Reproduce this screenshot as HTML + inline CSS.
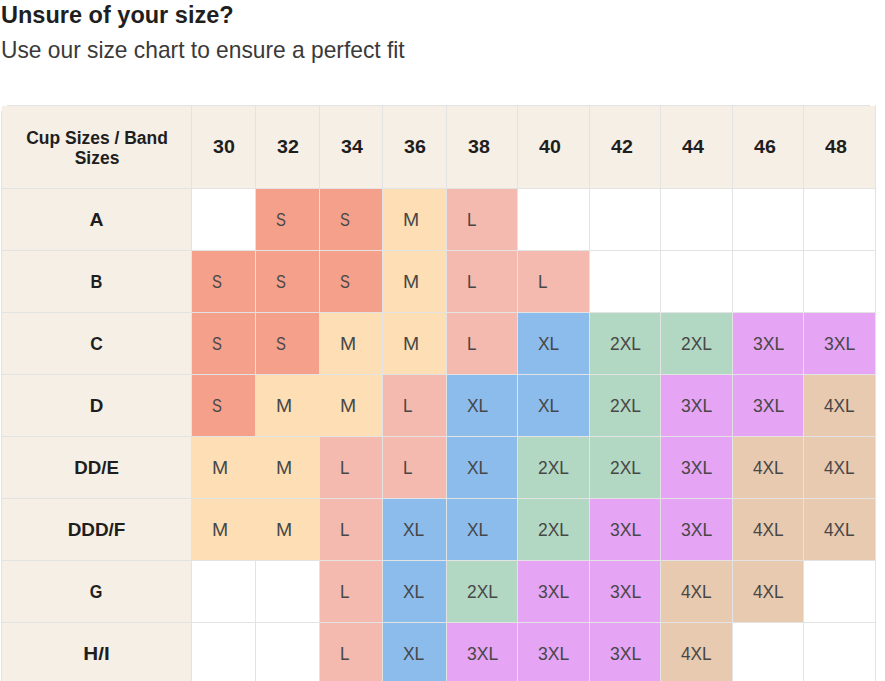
<!DOCTYPE html>
<html><head><meta charset="utf-8"><style>
html,body{margin:0;padding:0;background:#fff;}
body{width:885px;height:681px;position:relative;overflow:hidden;font-family:"Liberation Sans",sans-serif;}
.h1{position:absolute;left:1px;top:-0.4px;transform-origin:0 0;transform:scaleX(0.96);font-size:24.5px;font-weight:bold;color:#1f1f1f;white-space:nowrap;line-height:30px}
.h2{position:absolute;left:1px;top:34.5px;transform-origin:0 0;transform:scaleX(0.965);font-size:23.6px;color:#3a3a3a;white-space:nowrap;line-height:30px}
</style></head><body>
<div class="h1">Unsure of your size?</div>
<div class="h2">Use our size chart to ensure a perfect fit</div>
<div style="position:absolute;left:2px;top:106px;width:873px;height:82px;background:#F6EFE6"></div><div style="position:absolute;left:2px;top:188px;width:189px;height:493px;background:#F6EFE6"></div><div style="position:absolute;left:256px;top:189px;width:63px;height:61px;background:#F5A08A"></div><div style="position:absolute;left:320px;top:189px;width:62px;height:61px;background:#F5A08A"></div><div style="position:absolute;left:383px;top:189px;width:63px;height:61px;background:#FEDFB5"></div><div style="position:absolute;left:447px;top:189px;width:70px;height:61px;background:#F4B9AF"></div><div style="position:absolute;left:192px;top:251px;width:63px;height:61px;background:#F5A08A"></div><div style="position:absolute;left:256px;top:251px;width:63px;height:61px;background:#F5A08A"></div><div style="position:absolute;left:320px;top:251px;width:62px;height:61px;background:#F5A08A"></div><div style="position:absolute;left:383px;top:251px;width:63px;height:61px;background:#FEDFB5"></div><div style="position:absolute;left:447px;top:251px;width:70px;height:61px;background:#F4B9AF"></div><div style="position:absolute;left:518px;top:251px;width:71px;height:61px;background:#F4B9AF"></div><div style="position:absolute;left:192px;top:313px;width:63px;height:61px;background:#F5A08A"></div><div style="position:absolute;left:256px;top:313px;width:63px;height:61px;background:#F5A08A"></div><div style="position:absolute;left:320px;top:313px;width:62px;height:61px;background:#FEDFB5"></div><div style="position:absolute;left:383px;top:313px;width:63px;height:61px;background:#FEDFB5"></div><div style="position:absolute;left:447px;top:313px;width:70px;height:61px;background:#F4B9AF"></div><div style="position:absolute;left:518px;top:313px;width:71px;height:61px;background:#8BBCEC"></div><div style="position:absolute;left:590px;top:313px;width:70px;height:61px;background:#B2D7C3"></div><div style="position:absolute;left:661px;top:313px;width:71px;height:61px;background:#B2D7C3"></div><div style="position:absolute;left:733px;top:313px;width:70px;height:61px;background:#E5A4F4"></div><div style="position:absolute;left:804px;top:313px;width:71px;height:61px;background:#E5A4F4"></div><div style="position:absolute;left:192px;top:375px;width:63px;height:61px;background:#F5A08A"></div><div style="position:absolute;left:256px;top:375px;width:63px;height:61px;background:#FEDFB5"></div><div style="position:absolute;left:320px;top:375px;width:62px;height:61px;background:#FEDFB5"></div><div style="position:absolute;left:383px;top:375px;width:63px;height:61px;background:#F4B9AF"></div><div style="position:absolute;left:447px;top:375px;width:70px;height:61px;background:#8BBCEC"></div><div style="position:absolute;left:518px;top:375px;width:71px;height:61px;background:#8BBCEC"></div><div style="position:absolute;left:590px;top:375px;width:70px;height:61px;background:#B2D7C3"></div><div style="position:absolute;left:661px;top:375px;width:71px;height:61px;background:#E5A4F4"></div><div style="position:absolute;left:733px;top:375px;width:70px;height:61px;background:#E5A4F4"></div><div style="position:absolute;left:804px;top:375px;width:71px;height:61px;background:#E8CAB0"></div><div style="position:absolute;left:192px;top:437px;width:63px;height:61px;background:#FEDFB5"></div><div style="position:absolute;left:256px;top:437px;width:63px;height:61px;background:#FEDFB5"></div><div style="position:absolute;left:320px;top:437px;width:62px;height:61px;background:#F4B9AF"></div><div style="position:absolute;left:383px;top:437px;width:63px;height:61px;background:#F4B9AF"></div><div style="position:absolute;left:447px;top:437px;width:70px;height:61px;background:#8BBCEC"></div><div style="position:absolute;left:518px;top:437px;width:71px;height:61px;background:#B2D7C3"></div><div style="position:absolute;left:590px;top:437px;width:70px;height:61px;background:#B2D7C3"></div><div style="position:absolute;left:661px;top:437px;width:71px;height:61px;background:#E5A4F4"></div><div style="position:absolute;left:733px;top:437px;width:70px;height:61px;background:#E8CAB0"></div><div style="position:absolute;left:804px;top:437px;width:71px;height:61px;background:#E8CAB0"></div><div style="position:absolute;left:192px;top:499px;width:63px;height:61px;background:#FEDFB5"></div><div style="position:absolute;left:256px;top:499px;width:63px;height:61px;background:#FEDFB5"></div><div style="position:absolute;left:320px;top:499px;width:62px;height:61px;background:#F4B9AF"></div><div style="position:absolute;left:383px;top:499px;width:63px;height:61px;background:#8BBCEC"></div><div style="position:absolute;left:447px;top:499px;width:70px;height:61px;background:#8BBCEC"></div><div style="position:absolute;left:518px;top:499px;width:71px;height:61px;background:#B2D7C3"></div><div style="position:absolute;left:590px;top:499px;width:70px;height:61px;background:#E5A4F4"></div><div style="position:absolute;left:661px;top:499px;width:71px;height:61px;background:#E5A4F4"></div><div style="position:absolute;left:733px;top:499px;width:70px;height:61px;background:#E8CAB0"></div><div style="position:absolute;left:804px;top:499px;width:71px;height:61px;background:#E8CAB0"></div><div style="position:absolute;left:320px;top:561px;width:62px;height:61px;background:#F4B9AF"></div><div style="position:absolute;left:383px;top:561px;width:63px;height:61px;background:#8BBCEC"></div><div style="position:absolute;left:447px;top:561px;width:70px;height:61px;background:#B2D7C3"></div><div style="position:absolute;left:518px;top:561px;width:71px;height:61px;background:#E5A4F4"></div><div style="position:absolute;left:590px;top:561px;width:70px;height:61px;background:#E5A4F4"></div><div style="position:absolute;left:661px;top:561px;width:71px;height:61px;background:#E8CAB0"></div><div style="position:absolute;left:733px;top:561px;width:70px;height:61px;background:#E8CAB0"></div><div style="position:absolute;left:320px;top:623px;width:62px;height:61px;background:#F4B9AF"></div><div style="position:absolute;left:383px;top:623px;width:63px;height:61px;background:#8BBCEC"></div><div style="position:absolute;left:447px;top:623px;width:70px;height:61px;background:#E5A4F4"></div><div style="position:absolute;left:518px;top:623px;width:71px;height:61px;background:#E5A4F4"></div><div style="position:absolute;left:590px;top:623px;width:70px;height:61px;background:#E5A4F4"></div><div style="position:absolute;left:661px;top:623px;width:71px;height:61px;background:#E8CAB0"></div><div style="position:absolute;left:191px;top:105px;width:1px;height:576px;background:#E3E3E3"></div><div style="position:absolute;left:255px;top:105px;width:1px;height:576px;background:#E3E3E3"></div><div style="position:absolute;left:319px;top:105px;width:1px;height:576px;background:#E3E3E3"></div><div style="position:absolute;left:382px;top:105px;width:1px;height:576px;background:#E3E3E3"></div><div style="position:absolute;left:446px;top:105px;width:1px;height:576px;background:#E3E3E3"></div><div style="position:absolute;left:517px;top:105px;width:1px;height:576px;background:#E3E3E3"></div><div style="position:absolute;left:589px;top:105px;width:1px;height:576px;background:#E3E3E3"></div><div style="position:absolute;left:660px;top:105px;width:1px;height:576px;background:#E3E3E3"></div><div style="position:absolute;left:732px;top:105px;width:1px;height:576px;background:#E3E3E3"></div><div style="position:absolute;left:803px;top:105px;width:1px;height:576px;background:#E3E3E3"></div><div style="position:absolute;left:875px;top:105px;width:1px;height:576px;background:#E3E3E3"></div><div style="position:absolute;left:1px;top:111px;width:1px;height:570px;background:#E3E3E3"></div><div style="position:absolute;left:875px;top:111px;width:1px;height:570px;background:#E3E3E3"></div><div style="position:absolute;left:1px;top:188px;width:875px;height:1px;background:#E3E3E3"></div><div style="position:absolute;left:1px;top:250px;width:875px;height:1px;background:#E3E3E3"></div><div style="position:absolute;left:1px;top:312px;width:875px;height:1px;background:#E3E3E3"></div><div style="position:absolute;left:1px;top:374px;width:875px;height:1px;background:#E3E3E3"></div><div style="position:absolute;left:1px;top:436px;width:875px;height:1px;background:#E3E3E3"></div><div style="position:absolute;left:1px;top:498px;width:875px;height:1px;background:#E3E3E3"></div><div style="position:absolute;left:1px;top:560px;width:875px;height:1px;background:#E3E3E3"></div><div style="position:absolute;left:1px;top:622px;width:875px;height:1px;background:#E3E3E3"></div><div style="position:absolute;left:7px;top:105px;width:863px;height:1px;background:#E3E3E3"></div>
<div style="position:absolute;left:2px;top:106px;width:189px;height:82px;display:flex;align-items:center;justify-content:center;text-align:center;line-height:20px;padding-top:2px;padding-left:2px;box-sizing:border-box;font-weight:bold;font-size:18px;color:#1e1e1e"><span style="display:inline-block;transform:scaleX(0.97)">Cup Sizes / Band<br>Sizes</span></div><div style="position:absolute;left:192px;top:106px;width:63px;height:82px;display:flex;align-items:center;padding-left:20.6px;box-sizing:border-box;font-weight:bold;font-size:18px;color:#1e1e1e"><span style="display:inline-block;transform:scaleX(1.09);transform-origin:0 50%">30</span></div><div style="position:absolute;left:256px;top:106px;width:63px;height:82px;display:flex;align-items:center;padding-left:20.6px;box-sizing:border-box;font-weight:bold;font-size:18px;color:#1e1e1e"><span style="display:inline-block;transform:scaleX(1.09);transform-origin:0 50%">32</span></div><div style="position:absolute;left:320px;top:106px;width:62px;height:82px;display:flex;align-items:center;padding-left:20.6px;box-sizing:border-box;font-weight:bold;font-size:18px;color:#1e1e1e"><span style="display:inline-block;transform:scaleX(1.09);transform-origin:0 50%">34</span></div><div style="position:absolute;left:383px;top:106px;width:63px;height:82px;display:flex;align-items:center;padding-left:20.6px;box-sizing:border-box;font-weight:bold;font-size:18px;color:#1e1e1e"><span style="display:inline-block;transform:scaleX(1.09);transform-origin:0 50%">36</span></div><div style="position:absolute;left:447px;top:106px;width:70px;height:82px;display:flex;align-items:center;padding-left:20.6px;box-sizing:border-box;font-weight:bold;font-size:18px;color:#1e1e1e"><span style="display:inline-block;transform:scaleX(1.09);transform-origin:0 50%">38</span></div><div style="position:absolute;left:518px;top:106px;width:71px;height:82px;display:flex;align-items:center;padding-left:20.6px;box-sizing:border-box;font-weight:bold;font-size:18px;color:#1e1e1e"><span style="display:inline-block;transform:scaleX(1.09);transform-origin:0 50%">40</span></div><div style="position:absolute;left:590px;top:106px;width:70px;height:82px;display:flex;align-items:center;padding-left:20.6px;box-sizing:border-box;font-weight:bold;font-size:18px;color:#1e1e1e"><span style="display:inline-block;transform:scaleX(1.09);transform-origin:0 50%">42</span></div><div style="position:absolute;left:661px;top:106px;width:71px;height:82px;display:flex;align-items:center;padding-left:20.6px;box-sizing:border-box;font-weight:bold;font-size:18px;color:#1e1e1e"><span style="display:inline-block;transform:scaleX(1.09);transform-origin:0 50%">44</span></div><div style="position:absolute;left:733px;top:106px;width:70px;height:82px;display:flex;align-items:center;padding-left:20.6px;box-sizing:border-box;font-weight:bold;font-size:18px;color:#1e1e1e"><span style="display:inline-block;transform:scaleX(1.09);transform-origin:0 50%">46</span></div><div style="position:absolute;left:804px;top:106px;width:71px;height:82px;display:flex;align-items:center;padding-left:20.6px;box-sizing:border-box;font-weight:bold;font-size:18px;color:#1e1e1e"><span style="display:inline-block;transform:scaleX(1.09);transform-origin:0 50%">48</span></div><div style="position:absolute;left:2px;top:189px;width:189px;height:61px;display:flex;align-items:center;justify-content:center;padding-top:2px;box-sizing:border-box;font-weight:bold;font-size:18px;color:#1e1e1e"><span style="display:inline-block;transform:scaleX(1.08)">A</span></div><div style="position:absolute;left:256px;top:189px;width:63px;height:61px;display:flex;align-items:center;padding-left:20.4px;padding-top:1px;box-sizing:border-box;font-size:18.5px;color:#474747"><span style="display:inline-block;transform:scaleX(0.8);transform-origin:0 50%">S</span></div><div style="position:absolute;left:320px;top:189px;width:62px;height:61px;display:flex;align-items:center;padding-left:20.4px;padding-top:1px;box-sizing:border-box;font-size:18.5px;color:#474747"><span style="display:inline-block;transform:scaleX(0.8);transform-origin:0 50%">S</span></div><div style="position:absolute;left:383px;top:189px;width:63px;height:61px;display:flex;align-items:center;padding-left:20.4px;padding-top:1px;box-sizing:border-box;font-size:18.5px;color:#474747"><span style="display:inline-block;transform:scaleX(1.05);transform-origin:0 50%">M</span></div><div style="position:absolute;left:447px;top:189px;width:70px;height:61px;display:flex;align-items:center;padding-left:20.4px;padding-top:1px;box-sizing:border-box;font-size:18.5px;color:#474747"><span style="display:inline-block;transform:scaleX(0.92);transform-origin:0 50%">L</span></div><div style="position:absolute;left:2px;top:251px;width:189px;height:61px;display:flex;align-items:center;justify-content:center;padding-top:2px;box-sizing:border-box;font-weight:bold;font-size:18px;color:#1e1e1e"><span style="display:inline-block;transform:scaleX(0.91)">B</span></div><div style="position:absolute;left:192px;top:251px;width:63px;height:61px;display:flex;align-items:center;padding-left:20.4px;padding-top:1px;box-sizing:border-box;font-size:18.5px;color:#474747"><span style="display:inline-block;transform:scaleX(0.8);transform-origin:0 50%">S</span></div><div style="position:absolute;left:256px;top:251px;width:63px;height:61px;display:flex;align-items:center;padding-left:20.4px;padding-top:1px;box-sizing:border-box;font-size:18.5px;color:#474747"><span style="display:inline-block;transform:scaleX(0.8);transform-origin:0 50%">S</span></div><div style="position:absolute;left:320px;top:251px;width:62px;height:61px;display:flex;align-items:center;padding-left:20.4px;padding-top:1px;box-sizing:border-box;font-size:18.5px;color:#474747"><span style="display:inline-block;transform:scaleX(0.8);transform-origin:0 50%">S</span></div><div style="position:absolute;left:383px;top:251px;width:63px;height:61px;display:flex;align-items:center;padding-left:20.4px;padding-top:1px;box-sizing:border-box;font-size:18.5px;color:#474747"><span style="display:inline-block;transform:scaleX(1.05);transform-origin:0 50%">M</span></div><div style="position:absolute;left:447px;top:251px;width:70px;height:61px;display:flex;align-items:center;padding-left:20.4px;padding-top:1px;box-sizing:border-box;font-size:18.5px;color:#474747"><span style="display:inline-block;transform:scaleX(0.92);transform-origin:0 50%">L</span></div><div style="position:absolute;left:518px;top:251px;width:71px;height:61px;display:flex;align-items:center;padding-left:20.4px;padding-top:1px;box-sizing:border-box;font-size:18.5px;color:#474747"><span style="display:inline-block;transform:scaleX(0.92);transform-origin:0 50%">L</span></div><div style="position:absolute;left:2px;top:313px;width:189px;height:61px;display:flex;align-items:center;justify-content:center;padding-top:2px;box-sizing:border-box;font-weight:bold;font-size:18px;color:#1e1e1e"><span style="display:inline-block;transform:scaleX(0.97)">C</span></div><div style="position:absolute;left:192px;top:313px;width:63px;height:61px;display:flex;align-items:center;padding-left:20.4px;padding-top:1px;box-sizing:border-box;font-size:18.5px;color:#474747"><span style="display:inline-block;transform:scaleX(0.8);transform-origin:0 50%">S</span></div><div style="position:absolute;left:256px;top:313px;width:63px;height:61px;display:flex;align-items:center;padding-left:20.4px;padding-top:1px;box-sizing:border-box;font-size:18.5px;color:#474747"><span style="display:inline-block;transform:scaleX(0.8);transform-origin:0 50%">S</span></div><div style="position:absolute;left:320px;top:313px;width:62px;height:61px;display:flex;align-items:center;padding-left:20.4px;padding-top:1px;box-sizing:border-box;font-size:18.5px;color:#474747"><span style="display:inline-block;transform:scaleX(1.05);transform-origin:0 50%">M</span></div><div style="position:absolute;left:383px;top:313px;width:63px;height:61px;display:flex;align-items:center;padding-left:20.4px;padding-top:1px;box-sizing:border-box;font-size:18.5px;color:#474747"><span style="display:inline-block;transform:scaleX(1.05);transform-origin:0 50%">M</span></div><div style="position:absolute;left:447px;top:313px;width:70px;height:61px;display:flex;align-items:center;padding-left:20.4px;padding-top:1px;box-sizing:border-box;font-size:18.5px;color:#474747"><span style="display:inline-block;transform:scaleX(0.92);transform-origin:0 50%">L</span></div><div style="position:absolute;left:518px;top:313px;width:71px;height:61px;display:flex;align-items:center;padding-left:20.4px;padding-top:1px;box-sizing:border-box;font-size:18.5px;color:#474747"><span style="display:inline-block;transform:scaleX(0.94);transform-origin:0 50%">XL</span></div><div style="position:absolute;left:590px;top:313px;width:70px;height:61px;display:flex;align-items:center;padding-left:20.4px;padding-top:1px;box-sizing:border-box;font-size:18.5px;color:#474747"><span style="display:inline-block;transform:scaleX(0.94);transform-origin:0 50%">2XL</span></div><div style="position:absolute;left:661px;top:313px;width:71px;height:61px;display:flex;align-items:center;padding-left:20.4px;padding-top:1px;box-sizing:border-box;font-size:18.5px;color:#474747"><span style="display:inline-block;transform:scaleX(0.94);transform-origin:0 50%">2XL</span></div><div style="position:absolute;left:733px;top:313px;width:70px;height:61px;display:flex;align-items:center;padding-left:20.4px;padding-top:1px;box-sizing:border-box;font-size:18.5px;color:#474747"><span style="display:inline-block;transform:scaleX(0.95);transform-origin:0 50%">3XL</span></div><div style="position:absolute;left:804px;top:313px;width:71px;height:61px;display:flex;align-items:center;padding-left:20.4px;padding-top:1px;box-sizing:border-box;font-size:18.5px;color:#474747"><span style="display:inline-block;transform:scaleX(0.95);transform-origin:0 50%">3XL</span></div><div style="position:absolute;left:2px;top:375px;width:189px;height:61px;display:flex;align-items:center;justify-content:center;padding-top:2px;box-sizing:border-box;font-weight:bold;font-size:18px;color:#1e1e1e"><span style="display:inline-block;transform:scaleX(1.045)">D</span></div><div style="position:absolute;left:192px;top:375px;width:63px;height:61px;display:flex;align-items:center;padding-left:20.4px;padding-top:1px;box-sizing:border-box;font-size:18.5px;color:#474747"><span style="display:inline-block;transform:scaleX(0.8);transform-origin:0 50%">S</span></div><div style="position:absolute;left:256px;top:375px;width:63px;height:61px;display:flex;align-items:center;padding-left:20.4px;padding-top:1px;box-sizing:border-box;font-size:18.5px;color:#474747"><span style="display:inline-block;transform:scaleX(1.05);transform-origin:0 50%">M</span></div><div style="position:absolute;left:320px;top:375px;width:62px;height:61px;display:flex;align-items:center;padding-left:20.4px;padding-top:1px;box-sizing:border-box;font-size:18.5px;color:#474747"><span style="display:inline-block;transform:scaleX(1.05);transform-origin:0 50%">M</span></div><div style="position:absolute;left:383px;top:375px;width:63px;height:61px;display:flex;align-items:center;padding-left:20.4px;padding-top:1px;box-sizing:border-box;font-size:18.5px;color:#474747"><span style="display:inline-block;transform:scaleX(0.92);transform-origin:0 50%">L</span></div><div style="position:absolute;left:447px;top:375px;width:70px;height:61px;display:flex;align-items:center;padding-left:20.4px;padding-top:1px;box-sizing:border-box;font-size:18.5px;color:#474747"><span style="display:inline-block;transform:scaleX(0.94);transform-origin:0 50%">XL</span></div><div style="position:absolute;left:518px;top:375px;width:71px;height:61px;display:flex;align-items:center;padding-left:20.4px;padding-top:1px;box-sizing:border-box;font-size:18.5px;color:#474747"><span style="display:inline-block;transform:scaleX(0.94);transform-origin:0 50%">XL</span></div><div style="position:absolute;left:590px;top:375px;width:70px;height:61px;display:flex;align-items:center;padding-left:20.4px;padding-top:1px;box-sizing:border-box;font-size:18.5px;color:#474747"><span style="display:inline-block;transform:scaleX(0.94);transform-origin:0 50%">2XL</span></div><div style="position:absolute;left:661px;top:375px;width:71px;height:61px;display:flex;align-items:center;padding-left:20.4px;padding-top:1px;box-sizing:border-box;font-size:18.5px;color:#474747"><span style="display:inline-block;transform:scaleX(0.95);transform-origin:0 50%">3XL</span></div><div style="position:absolute;left:733px;top:375px;width:70px;height:61px;display:flex;align-items:center;padding-left:20.4px;padding-top:1px;box-sizing:border-box;font-size:18.5px;color:#474747"><span style="display:inline-block;transform:scaleX(0.95);transform-origin:0 50%">3XL</span></div><div style="position:absolute;left:804px;top:375px;width:71px;height:61px;display:flex;align-items:center;padding-left:20.4px;padding-top:1px;box-sizing:border-box;font-size:18.5px;color:#474747"><span style="display:inline-block;transform:scaleX(0.93);transform-origin:0 50%">4XL</span></div><div style="position:absolute;left:2px;top:437px;width:189px;height:61px;display:flex;align-items:center;justify-content:center;padding-top:2px;box-sizing:border-box;font-weight:bold;font-size:18px;color:#1e1e1e"><span style="display:inline-block;transform:scaleX(1.04)">DD/E</span></div><div style="position:absolute;left:192px;top:437px;width:63px;height:61px;display:flex;align-items:center;padding-left:20.4px;padding-top:1px;box-sizing:border-box;font-size:18.5px;color:#474747"><span style="display:inline-block;transform:scaleX(1.05);transform-origin:0 50%">M</span></div><div style="position:absolute;left:256px;top:437px;width:63px;height:61px;display:flex;align-items:center;padding-left:20.4px;padding-top:1px;box-sizing:border-box;font-size:18.5px;color:#474747"><span style="display:inline-block;transform:scaleX(1.05);transform-origin:0 50%">M</span></div><div style="position:absolute;left:320px;top:437px;width:62px;height:61px;display:flex;align-items:center;padding-left:20.4px;padding-top:1px;box-sizing:border-box;font-size:18.5px;color:#474747"><span style="display:inline-block;transform:scaleX(0.92);transform-origin:0 50%">L</span></div><div style="position:absolute;left:383px;top:437px;width:63px;height:61px;display:flex;align-items:center;padding-left:20.4px;padding-top:1px;box-sizing:border-box;font-size:18.5px;color:#474747"><span style="display:inline-block;transform:scaleX(0.92);transform-origin:0 50%">L</span></div><div style="position:absolute;left:447px;top:437px;width:70px;height:61px;display:flex;align-items:center;padding-left:20.4px;padding-top:1px;box-sizing:border-box;font-size:18.5px;color:#474747"><span style="display:inline-block;transform:scaleX(0.94);transform-origin:0 50%">XL</span></div><div style="position:absolute;left:518px;top:437px;width:71px;height:61px;display:flex;align-items:center;padding-left:20.4px;padding-top:1px;box-sizing:border-box;font-size:18.5px;color:#474747"><span style="display:inline-block;transform:scaleX(0.94);transform-origin:0 50%">2XL</span></div><div style="position:absolute;left:590px;top:437px;width:70px;height:61px;display:flex;align-items:center;padding-left:20.4px;padding-top:1px;box-sizing:border-box;font-size:18.5px;color:#474747"><span style="display:inline-block;transform:scaleX(0.94);transform-origin:0 50%">2XL</span></div><div style="position:absolute;left:661px;top:437px;width:71px;height:61px;display:flex;align-items:center;padding-left:20.4px;padding-top:1px;box-sizing:border-box;font-size:18.5px;color:#474747"><span style="display:inline-block;transform:scaleX(0.95);transform-origin:0 50%">3XL</span></div><div style="position:absolute;left:733px;top:437px;width:70px;height:61px;display:flex;align-items:center;padding-left:20.4px;padding-top:1px;box-sizing:border-box;font-size:18.5px;color:#474747"><span style="display:inline-block;transform:scaleX(0.93);transform-origin:0 50%">4XL</span></div><div style="position:absolute;left:804px;top:437px;width:71px;height:61px;display:flex;align-items:center;padding-left:20.4px;padding-top:1px;box-sizing:border-box;font-size:18.5px;color:#474747"><span style="display:inline-block;transform:scaleX(0.93);transform-origin:0 50%">4XL</span></div><div style="position:absolute;left:2px;top:499px;width:189px;height:61px;display:flex;align-items:center;justify-content:center;padding-top:2px;box-sizing:border-box;font-weight:bold;font-size:18px;color:#1e1e1e"><span style="display:inline-block;transform:scaleX(1.05)">DDD/F</span></div><div style="position:absolute;left:192px;top:499px;width:63px;height:61px;display:flex;align-items:center;padding-left:20.4px;padding-top:1px;box-sizing:border-box;font-size:18.5px;color:#474747"><span style="display:inline-block;transform:scaleX(1.05);transform-origin:0 50%">M</span></div><div style="position:absolute;left:256px;top:499px;width:63px;height:61px;display:flex;align-items:center;padding-left:20.4px;padding-top:1px;box-sizing:border-box;font-size:18.5px;color:#474747"><span style="display:inline-block;transform:scaleX(1.05);transform-origin:0 50%">M</span></div><div style="position:absolute;left:320px;top:499px;width:62px;height:61px;display:flex;align-items:center;padding-left:20.4px;padding-top:1px;box-sizing:border-box;font-size:18.5px;color:#474747"><span style="display:inline-block;transform:scaleX(0.92);transform-origin:0 50%">L</span></div><div style="position:absolute;left:383px;top:499px;width:63px;height:61px;display:flex;align-items:center;padding-left:20.4px;padding-top:1px;box-sizing:border-box;font-size:18.5px;color:#474747"><span style="display:inline-block;transform:scaleX(0.94);transform-origin:0 50%">XL</span></div><div style="position:absolute;left:447px;top:499px;width:70px;height:61px;display:flex;align-items:center;padding-left:20.4px;padding-top:1px;box-sizing:border-box;font-size:18.5px;color:#474747"><span style="display:inline-block;transform:scaleX(0.94);transform-origin:0 50%">XL</span></div><div style="position:absolute;left:518px;top:499px;width:71px;height:61px;display:flex;align-items:center;padding-left:20.4px;padding-top:1px;box-sizing:border-box;font-size:18.5px;color:#474747"><span style="display:inline-block;transform:scaleX(0.94);transform-origin:0 50%">2XL</span></div><div style="position:absolute;left:590px;top:499px;width:70px;height:61px;display:flex;align-items:center;padding-left:20.4px;padding-top:1px;box-sizing:border-box;font-size:18.5px;color:#474747"><span style="display:inline-block;transform:scaleX(0.95);transform-origin:0 50%">3XL</span></div><div style="position:absolute;left:661px;top:499px;width:71px;height:61px;display:flex;align-items:center;padding-left:20.4px;padding-top:1px;box-sizing:border-box;font-size:18.5px;color:#474747"><span style="display:inline-block;transform:scaleX(0.95);transform-origin:0 50%">3XL</span></div><div style="position:absolute;left:733px;top:499px;width:70px;height:61px;display:flex;align-items:center;padding-left:20.4px;padding-top:1px;box-sizing:border-box;font-size:18.5px;color:#474747"><span style="display:inline-block;transform:scaleX(0.93);transform-origin:0 50%">4XL</span></div><div style="position:absolute;left:804px;top:499px;width:71px;height:61px;display:flex;align-items:center;padding-left:20.4px;padding-top:1px;box-sizing:border-box;font-size:18.5px;color:#474747"><span style="display:inline-block;transform:scaleX(0.93);transform-origin:0 50%">4XL</span></div><div style="position:absolute;left:2px;top:561px;width:189px;height:61px;display:flex;align-items:center;justify-content:center;padding-top:2px;box-sizing:border-box;font-weight:bold;font-size:18px;color:#1e1e1e"><span style="display:inline-block;transform:scaleX(0.9)">G</span></div><div style="position:absolute;left:320px;top:561px;width:62px;height:61px;display:flex;align-items:center;padding-left:20.4px;padding-top:1px;box-sizing:border-box;font-size:18.5px;color:#474747"><span style="display:inline-block;transform:scaleX(0.92);transform-origin:0 50%">L</span></div><div style="position:absolute;left:383px;top:561px;width:63px;height:61px;display:flex;align-items:center;padding-left:20.4px;padding-top:1px;box-sizing:border-box;font-size:18.5px;color:#474747"><span style="display:inline-block;transform:scaleX(0.94);transform-origin:0 50%">XL</span></div><div style="position:absolute;left:447px;top:561px;width:70px;height:61px;display:flex;align-items:center;padding-left:20.4px;padding-top:1px;box-sizing:border-box;font-size:18.5px;color:#474747"><span style="display:inline-block;transform:scaleX(0.94);transform-origin:0 50%">2XL</span></div><div style="position:absolute;left:518px;top:561px;width:71px;height:61px;display:flex;align-items:center;padding-left:20.4px;padding-top:1px;box-sizing:border-box;font-size:18.5px;color:#474747"><span style="display:inline-block;transform:scaleX(0.95);transform-origin:0 50%">3XL</span></div><div style="position:absolute;left:590px;top:561px;width:70px;height:61px;display:flex;align-items:center;padding-left:20.4px;padding-top:1px;box-sizing:border-box;font-size:18.5px;color:#474747"><span style="display:inline-block;transform:scaleX(0.95);transform-origin:0 50%">3XL</span></div><div style="position:absolute;left:661px;top:561px;width:71px;height:61px;display:flex;align-items:center;padding-left:20.4px;padding-top:1px;box-sizing:border-box;font-size:18.5px;color:#474747"><span style="display:inline-block;transform:scaleX(0.93);transform-origin:0 50%">4XL</span></div><div style="position:absolute;left:733px;top:561px;width:70px;height:61px;display:flex;align-items:center;padding-left:20.4px;padding-top:1px;box-sizing:border-box;font-size:18.5px;color:#474747"><span style="display:inline-block;transform:scaleX(0.93);transform-origin:0 50%">4XL</span></div><div style="position:absolute;left:2px;top:623px;width:189px;height:61px;display:flex;align-items:center;justify-content:center;padding-top:2px;box-sizing:border-box;font-weight:bold;font-size:18px;color:#1e1e1e"><span style="display:inline-block;transform:scaleX(1.147)">H/I</span></div><div style="position:absolute;left:320px;top:623px;width:62px;height:61px;display:flex;align-items:center;padding-left:20.4px;padding-top:1px;box-sizing:border-box;font-size:18.5px;color:#474747"><span style="display:inline-block;transform:scaleX(0.92);transform-origin:0 50%">L</span></div><div style="position:absolute;left:383px;top:623px;width:63px;height:61px;display:flex;align-items:center;padding-left:20.4px;padding-top:1px;box-sizing:border-box;font-size:18.5px;color:#474747"><span style="display:inline-block;transform:scaleX(0.94);transform-origin:0 50%">XL</span></div><div style="position:absolute;left:447px;top:623px;width:70px;height:61px;display:flex;align-items:center;padding-left:20.4px;padding-top:1px;box-sizing:border-box;font-size:18.5px;color:#474747"><span style="display:inline-block;transform:scaleX(0.95);transform-origin:0 50%">3XL</span></div><div style="position:absolute;left:518px;top:623px;width:71px;height:61px;display:flex;align-items:center;padding-left:20.4px;padding-top:1px;box-sizing:border-box;font-size:18.5px;color:#474747"><span style="display:inline-block;transform:scaleX(0.95);transform-origin:0 50%">3XL</span></div><div style="position:absolute;left:590px;top:623px;width:70px;height:61px;display:flex;align-items:center;padding-left:20.4px;padding-top:1px;box-sizing:border-box;font-size:18.5px;color:#474747"><span style="display:inline-block;transform:scaleX(0.95);transform-origin:0 50%">3XL</span></div><div style="position:absolute;left:661px;top:623px;width:71px;height:61px;display:flex;align-items:center;padding-left:20.4px;padding-top:1px;box-sizing:border-box;font-size:18.5px;color:#474747"><span style="display:inline-block;transform:scaleX(0.93);transform-origin:0 50%">4XL</span></div>
</body></html>
